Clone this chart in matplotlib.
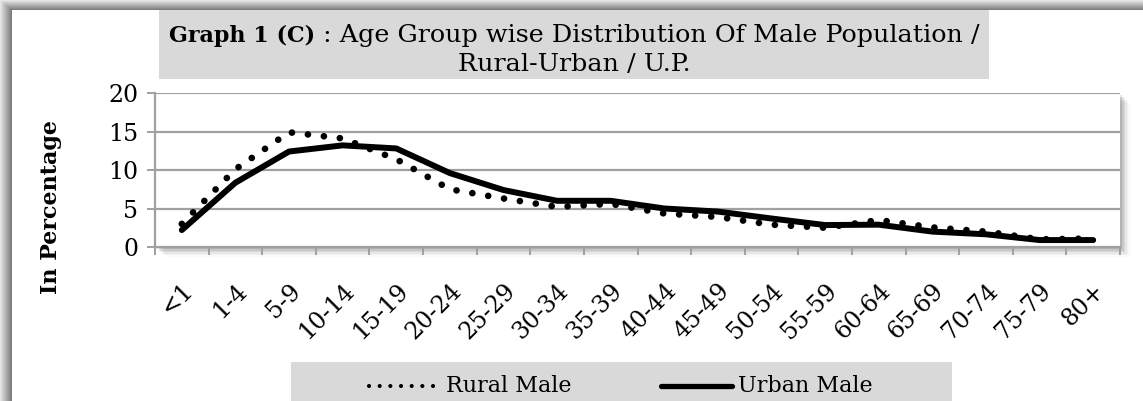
import matplotlib
matplotlib.use("Agg")
import matplotlib.pyplot as plt
from matplotlib.patches import Rectangle
from matplotlib.lines import Line2D
import numpy as np

# ---- data ----
categories = ['<1', '1-4', '5-9', '10-14', '15-19', '20-24', '25-29', '30-34',
              '35-39', '40-44', '45-49', '50-54', '55-59', '60-64', '65-69',
              '70-74', '75-79', '80+']
rural_male = [3.0, 10.1, 14.9, 14.1, 11.4, 7.5, 6.3, 5.2, 5.6, 4.35, 3.9, 2.9,
              2.5, 3.5, 2.55, 2.0, 1.0, 1.1]
urban_male = [2.2, 8.35, 12.4, 13.2, 12.8, 9.6, 7.4, 6.0, 6.0, 5.0, 4.6, 3.7,
              2.85, 2.9, 2.0, 1.65, 0.9, 0.9]
y_ticks = [0, 5, 10, 15, 20]
series_names = ['Rural Male', 'Urban Male']
title_bold = 'Graph 1 (C)'
title_rest = ' : Age Group wise Distribution Of Male Population /'
title_line2 = 'Rural-Urban / U.P.'
y_label = 'In Percentage'

FONT = 'DejaVu Serif'
plt.rcParams['font.family'] = [FONT]

W, H = 1143, 401
fig = plt.figure(figsize=(W / 100, H / 100), dpi=100)
fig.patch.set_facecolor('white')


def fx(x):
    return x / W


def fy(y):
    return 1 - y / H


# ---- background axes in pixel coordinates (frame, boxes) ----
bg = fig.add_axes([0, 0, 1, 1], zorder=0)
bg.set_xlim(0, W)
bg.set_ylim(H, 0)
bg.axis('off')

# outer frame: gradient band on top and left, darker towards the inside
for i in range(10):
    g = 0.90 - 0.045 * i
    bg.add_patch(Rectangle((min(i, 12), i), W, 1, facecolor=str(g), edgecolor='none'))
for i in range(12):
    g = 0.90 - 0.038 * i
    bg.add_patch(Rectangle((i, min(i, 10)), 1, H, facecolor=str(g), edgecolor='none'))

# title box
bg.add_patch(Rectangle((159, 10), 989 - 159, 79 - 10, facecolor='#d9d9d9', edgecolor='none'))
# legend box
bg.add_patch(Rectangle((291, 362), 952 - 291, H - 362 + 2, facecolor='#d9d9d9',
                       edgecolor='none'))

# plot area shadow
L, R, T, B = 155, 1120, 93, 247
for k, a in enumerate([0.10, 0.08, 0.06, 0.045, 0.03, 0.02]):
    off = 2 + k * 1.6
    bg.add_patch(Rectangle((L + off, T + off), R - L, B - T, facecolor='black',
                           alpha=a, edgecolor='none'))

# ---- plot area ----
ax = fig.add_axes([fx(L), fy(B), fx(R) - fx(L), (B - T) / H], zorder=2)
ax.set_facecolor('white')

x = np.arange(len(categories))
ax.plot(x, urban_male, color='black', lw=4.3, solid_capstyle='round',
        solid_joinstyle='round', zorder=3)
ax.plot(x, rural_male, color='black', lw=4.8, linestyle=(0, (0.01, 2.4)),
        dash_capstyle='round', zorder=4)

ax.set_xlim(-0.5, len(categories) - 0.5)
ax.set_ylim(0, 20)
ax.set_yticks(y_ticks)
ax.set_yticklabels([str(v) for v in y_ticks], fontsize=17)
for v in y_ticks[1:]:
    ax.axhline(v, color='#a0a0a0', lw=1.6, zorder=1)

ax.set_xticks(np.arange(len(categories) + 1) - 0.5)
ax.set_xticklabels([])
ax.set_xticks(x, minor=True)
ax.set_xticklabels(categories, minor=True, rotation=45, ha='right', va='top',
                   rotation_mode='anchor', fontsize=17)
ax.tick_params(axis='x', which='minor', length=0, pad=23)
ax.tick_params(axis='x', which='major', direction='out', length=6, width=1.4,
               color='#a0a0a0')
ax.tick_params(axis='y', direction='out', length=6, width=1.4, color='#a0a0a0', pad=6)
for s in ['top', 'right']:
    ax.spines[s].set_visible(False)
for s in ['left', 'bottom']:
    ax.spines[s].set_color('#a0a0a0')
    ax.spines[s].set_linewidth(1.6)

fig.text(fx(51), fy(207), y_label, rotation=90, ha='center', va='center',
         fontsize=16, fontweight='bold')

# ---- title ----
fig.canvas.draw()
r = fig.canvas.get_renderer()
tb = fig.text(0, fy(42), title_bold, fontsize=16, fontweight='bold', va='baseline')
tr = fig.text(0, fy(42), title_rest, fontsize=18.3, va='baseline')
w1 = tb.get_window_extent(r).width
w2 = tr.get_window_extent(r).width
cx = 574
start = cx - (w1 + w2) / 2
tb.set_x(fx(start))
tr.set_x(fx(start + w1))
fig.text(fx(cx), fy(71), title_line2, fontsize=18.3, ha='center', va='baseline')

# ---- legend ----
ly = fy(386)
fig.lines.append(Line2D([fx(369), fx(436)], [ly, ly], transform=fig.transFigure,
                        color='black', lw=3.0, linestyle=(0, (0.01, 2.55)),
                        dash_capstyle='round', zorder=5))
fig.text(fx(446), ly, series_names[0], fontsize=16, va='center', ha='left')
fig.lines.append(Line2D([fx(661), fx(732)], [ly, ly], transform=fig.transFigure,
                        color='black', lw=3.8, solid_capstyle='round', zorder=5))
fig.text(fx(738), ly, series_names[1], fontsize=16, va='center', ha='left')

fig.savefig('out.png', dpi=100)
